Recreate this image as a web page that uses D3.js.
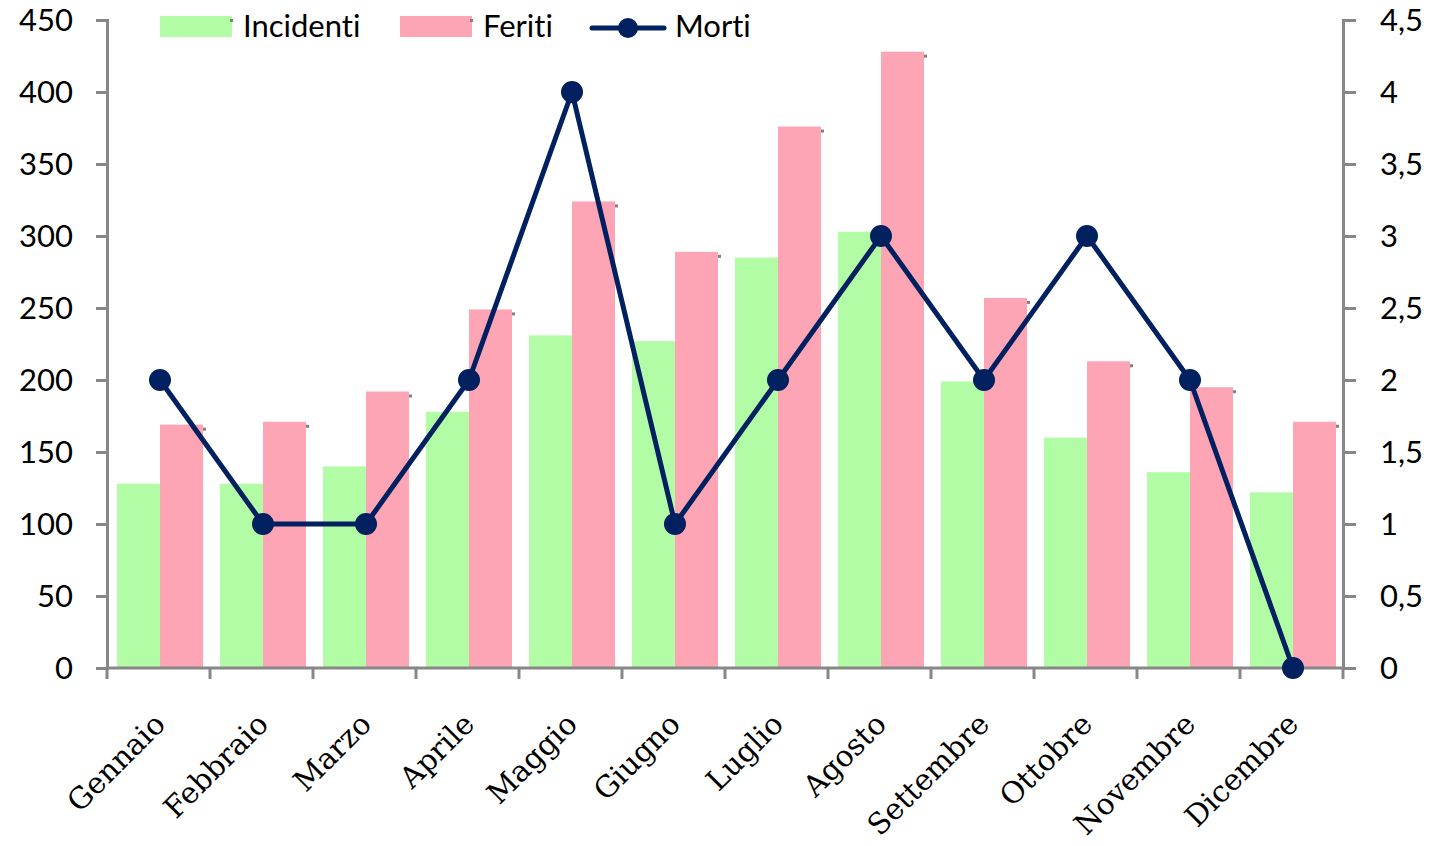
<html>
<head>
<meta charset="utf-8">
<style>
    body { margin: 0; background: #fff; }
    .axis path, .axis line { stroke: #878787; stroke-width: 3; fill: none; }
    .num { font-family: Lato, sans-serif; font-size: 31px; fill: #000; font-variant-ligatures: none; }
    .cat { font-family: "DejaVu Serif", serif; font-size: 29.5px; fill: #000; }
</style>
</head>
<body>
<div id="target"></div>
<script src="https://cdnjs.cloudflare.com/ajax/libs/d3/7.8.5/d3.min.js"></script>
<script>
    // data
    var mesi = ['Gennaio', 'Febbraio', 'Marzo', 'Aprile', 'Maggio', 'Giugno',
        'Luglio', 'Agosto', 'Settembre', 'Ottobre', 'Novembre', 'Dicembre'];
    var incidenti = [128, 128, 140, 178, 231, 227, 285, 303, 199, 160, 136, 122];
    var feriti = [169, 171, 192, 249, 324, 289, 376, 428, 257, 213, 195, 171];
    var morti = [2, 1, 1, 2, 4, 1, 2, 3, 2, 3, 2, 0];
    var leftTicks = [0, 50, 100, 150, 200, 250, 300, 350, 400, 450];
    var rightTicks = [0, 0.5, 1, 1.5, 2, 2.5, 3, 3.5, 4, 4.5];

    var W = 1433, H = 846;
    var pLeft = 107, pRight = 1343, pTop = 20, pBottom = 668;
    var green = '#b3fca6', pink = '#fda5b4', navy = '#002060';

    var svg = d3.select('#target').append('svg')
        .attr('width', W).attr('height', H);

    var x = d3.scaleBand().domain(mesi).range([pLeft, pRight]);
    var yL = d3.scaleLinear().domain([0, 450]).range([pBottom, pTop]);
    var yR = d3.scaleLinear().domain([0, 4.5]).range([pBottom, pTop]);
    var barW = 43, off = 10;
    var mid = function (m) { return x(m) + off + barW; };

    // bars
    var series = [
        {name: 'Incidenti', vals: incidenti, color: green, dx: 0},
        {name: 'Feriti', vals: feriti, color: pink, dx: barW}
    ];
    series.forEach(function (s) {
        var g = svg.append('g');
        g.selectAll('rect.bar').data(mesi).enter().append('rect')
            .attr('class', 'bar')
            .attr('x', function (m) { return x(m) + off + s.dx; })
            .attr('y', function (m, i) { return yL(s.vals[i]); })
            .attr('width', barW)
            .attr('height', function (m, i) { return pBottom - yL(s.vals[i]); })
            .attr('fill', s.color);
        // little grey marks at the bar tops
        g.selectAll('rect.mk').data(mesi).enter().append('rect')
            .attr('class', 'mk')
            .attr('x', function (m) { return x(m) + off + s.dx + barW; })
            .attr('y', function (m, i) { return yL(s.vals[i]) + 3; })
            .attr('width', 3).attr('height', 3)
            .attr('fill', '#808080');
    });

    // axes
    svg.append('g').attr('class', 'axis')
        .attr('transform', 'translate(' + pLeft + ',0)')
        .call(d3.axisLeft(yL).tickValues(leftTicks).tickSize(11).tickSizeOuter(11).tickFormat(''));
    svg.append('g').attr('class', 'axis')
        .attr('transform', 'translate(' + pRight + ',0)')
        .call(d3.axisRight(yR).tickValues(rightTicks).tickSize(13).tickSizeOuter(13).tickFormat(''));
    var bounds = mesi.map(function (m) { return x(m); }).concat([pRight]);
    var axB = svg.append('g').attr('class', 'axis');
    axB.append('line').attr('x1', pLeft).attr('x2', pRight)
        .attr('y1', pBottom).attr('y2', pBottom);
    axB.selectAll('line.t').data(bounds).enter().append('line')
        .attr('class', 't')
        .attr('x1', function (d) { return d; }).attr('x2', function (d) { return d; })
        .attr('y1', pBottom).attr('y2', pBottom + 11);

    svg.selectAll('text.lt').data(leftTicks).enter().append('text')
        .attr('class', 'num lt')
        .attr('x', 73).attr('y', function (d) { return yL(d) + 11; })
        .attr('text-anchor', 'end')
        .text(function (d) { return d; });
    svg.selectAll('text.rt').data(rightTicks).enter().append('text')
        .attr('class', 'num rt')
        .attr('x', 1380).attr('y', function (d) { return yR(d) + 11; })
        .text(function (d) { return String(d).replace('.', ','); });

    svg.selectAll('text.cat').data(mesi).enter().append('text')
        .attr('class', 'cat')
        .attr('text-anchor', 'end')
        .attr('transform', function (m) {
            return 'translate(' + (mid(m) + 7) + ',' + (pBottom + 58) + ') rotate(-45)';
        })
        .text(function (m) { return m; });

    // Morti line
    var line = d3.line()
        .x(function (d, i) { return mid(mesi[i]); })
        .y(function (d) { return yR(d); });
    svg.append('path').datum(morti)
        .attr('d', line)
        .attr('fill', 'none').attr('stroke', navy).attr('stroke-width', 5)
        .attr('stroke-linejoin', 'round');
    svg.selectAll('circle.pt').data(morti).enter().append('circle')
        .attr('class', 'pt')
        .attr('cx', function (d, i) { return mid(mesi[i]); })
        .attr('cy', function (d) { return yR(d); })
        .attr('r', 11).attr('fill', navy);

    // legend
    var lg = svg.append('g');
    lg.append('rect').attr('x', 160).attr('y', 16).attr('width', 72).attr('height', 21).attr('fill', green);
    lg.append('rect').attr('x', 230).attr('y', 19).attr('width', 3).attr('height', 3).attr('fill', '#808080');
    lg.append('text').attr('class', 'num').attr('x', 243).attr('y', 37).text('Incidenti');
    lg.append('rect').attr('x', 400).attr('y', 16).attr('width', 72).attr('height', 21).attr('fill', pink);
    lg.append('rect').attr('x', 470).attr('y', 19).attr('width', 3).attr('height', 3).attr('fill', '#808080');
    lg.append('text').attr('class', 'num').attr('x', 483).attr('y', 37).text('Feriti');
    lg.append('line').attr('x1', 592).attr('x2', 664).attr('y1', 28).attr('y2', 28)
        .attr('stroke', navy).attr('stroke-width', 5).attr('stroke-linecap', 'round');
    lg.append('circle').attr('cx', 628).attr('cy', 28).attr('r', 10).attr('fill', navy);
    lg.append('text').attr('class', 'num').attr('x', 675).attr('y', 37).text('Morti');
</script>
</body>
</html>
